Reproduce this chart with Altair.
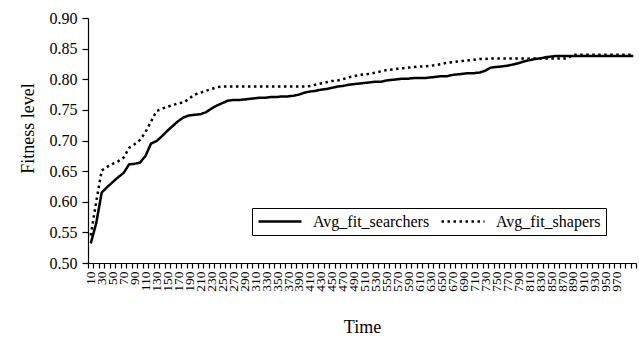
import altair as alt
import pandas as pd

time = list(range(10, 1010, 10))

searchers = [
    0.532, 0.565, 0.615, 0.624, 0.632, 0.640, 0.647, 0.661, 0.662, 0.664,
    0.675, 0.695, 0.699, 0.707, 0.716, 0.724, 0.732, 0.738, 0.741, 0.742,
    0.743, 0.746, 0.752, 0.757, 0.761, 0.765, 0.766, 0.766, 0.767, 0.768,
    0.769, 0.770, 0.770, 0.771, 0.771, 0.772, 0.772, 0.773, 0.775, 0.778,
    0.780, 0.781, 0.783, 0.784, 0.786, 0.788, 0.789, 0.791, 0.792, 0.793,
    0.794, 0.795, 0.796, 0.796, 0.798, 0.799, 0.800, 0.801, 0.801, 0.802,
    0.802, 0.802, 0.803, 0.804, 0.805, 0.805, 0.807, 0.808, 0.809, 0.810,
    0.810, 0.811, 0.814, 0.819, 0.820, 0.821, 0.822, 0.824, 0.826, 0.829,
    0.831, 0.833, 0.834, 0.836, 0.837, 0.838, 0.838, 0.838, 0.838, 0.838,
    0.838, 0.838, 0.838, 0.838, 0.838, 0.838, 0.838, 0.838, 0.838, 0.838,
]

shapers = [
    0.545, 0.600, 0.651, 0.657, 0.662, 0.666, 0.672, 0.688, 0.694, 0.701,
    0.714, 0.731, 0.748, 0.752, 0.755, 0.758, 0.761, 0.762, 0.769, 0.775,
    0.778, 0.781, 0.784, 0.787, 0.788, 0.788, 0.788, 0.788, 0.788, 0.788,
    0.788, 0.788, 0.788, 0.788, 0.788, 0.788, 0.788, 0.788, 0.788, 0.788,
    0.789, 0.791, 0.793, 0.795, 0.797, 0.798, 0.800, 0.803, 0.805, 0.807,
    0.808, 0.809, 0.811, 0.813, 0.815, 0.816, 0.817, 0.818, 0.819, 0.820,
    0.821, 0.821, 0.822, 0.823, 0.825, 0.827, 0.828, 0.829, 0.830, 0.831,
    0.832, 0.833, 0.833, 0.834, 0.834, 0.834, 0.834, 0.834, 0.834, 0.834,
    0.834, 0.834, 0.834, 0.834, 0.834, 0.834, 0.834, 0.834, 0.840, 0.840,
    0.840, 0.840, 0.840, 0.840, 0.840, 0.840, 0.840, 0.840, 0.840, 0.840,
]

series_names = ["Avg_fit_searchers", "Avg_fit_shapers"]
y_ticks = [0.50, 0.55, 0.60, 0.65, 0.70, 0.75, 0.80, 0.85, 0.90]

rows = []
for t, a, b in zip(time, searchers, shapers):
    rows.append({"Time": t, "value": a, "series": series_names[0]})
    rows.append({"Time": t, "value": b, "series": series_names[1]})
df = pd.DataFrame(rows)

FONT = "Liberation Serif"

chart = (
    alt.Chart(df)
    .mark_line(color="black", strokeWidth=2.5, strokeCap="butt")
    .encode(
        x=alt.X(
            "Time:O",
            bandPosition=0.5,
            scale=alt.Scale(type="band", paddingInner=0, paddingOuter=0),
            axis=alt.Axis(
                title="Time",
                labelAngle=270,
                labelExpr="((datum.value - 10) % 20 == 0 && datum.value <= 970) ? datum.value : ''",
                labelOverlap=False,
                labelFlush=False,
                labelFontSize=13.5,
                tickBand="extent",
                tickSize=5,
                labelPadding=3,
                titlePadding=27,
            ),
        ),
        y=alt.Y(
            "value:Q",
            scale=alt.Scale(domain=[0.5, 0.9]),
            axis=alt.Axis(
                title="Fitness level",
                values=y_ticks,
                format=".2f",
                tickSize=6,
                labelPadding=5,
                titlePadding=12,
                titleY=110,
            ),
        ),
        strokeDash=alt.StrokeDash(
            "series:N",
            scale=alt.Scale(domain=series_names, range=[[1, 0], [2.5, 3.5]]),
            legend=alt.Legend(
                title=None,
                orient="none",
                legendX=164,
                legendY=190,
                direction="horizontal",
                strokeColor="black",
                fillColor="white",
                padding=5,
                symbolType="stroke",
                symbolSize=1850,
                clipHeight=17,
                symbolStrokeWidth=2.5,
                symbolStrokeColor="black",
                labelFont=FONT,
                labelFontSize=16,
                labelColor="black",
                labelOffset=10,
                columnPadding=10,
            ),
        ),
    )
    .properties(
        width=548,
        height=245,
        background="white",
        padding={"left": 88, "top": 18, "right": 3, "bottom": 74},
        autosize=alt.AutoSizeParams(type="none"),
    )
    .configure_view(stroke=None)
    .configure_axis(
        grid=False,
        domainColor="black",
        domainWidth=1.2,
        tickColor="black",
        tickWidth=1.2,
        labelFont=FONT,
        labelFontSize=16,
        labelColor="black",
        titleFont=FONT,
        titleFontSize=18,
        titleFontWeight="normal",
        titleColor="black",
    )
)

chart.save("out.html", embed_options={"renderer": "svg", "actions": False})
